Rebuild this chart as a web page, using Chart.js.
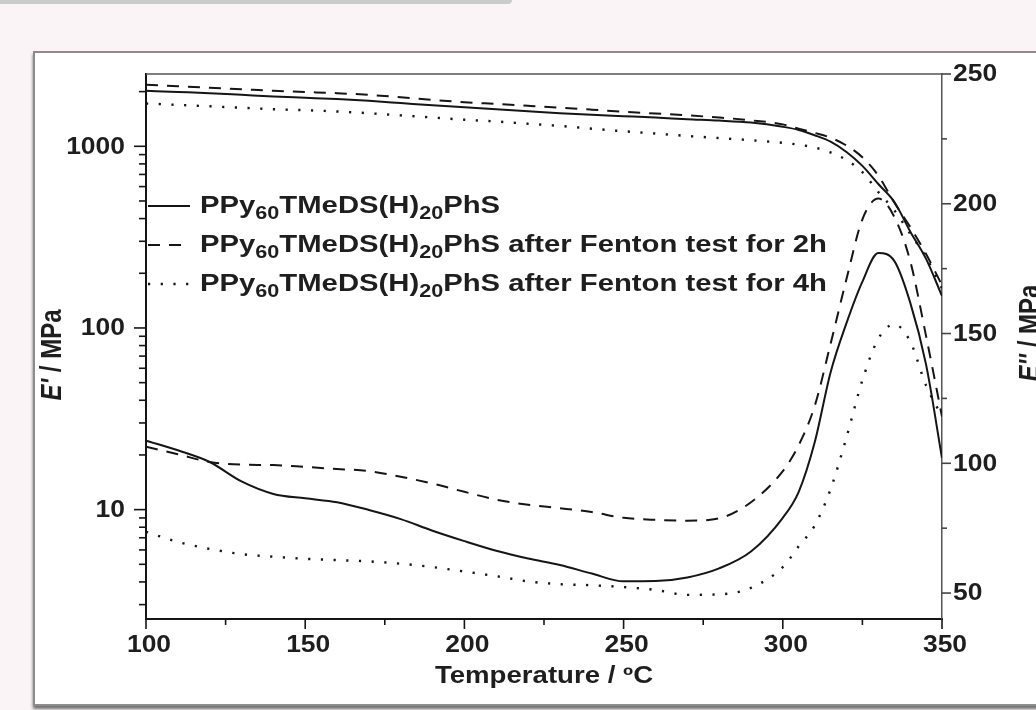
<!DOCTYPE html>
<html lang="en">
<head>
<meta charset="UTF-8">
<title>Storage and loss modulus vs temperature</title>
<style>
    body {
        margin: 0;
        width: 1036px;
        height: 710px;
        overflow: hidden;
        position: relative;
        background: #fbf4f6;
        font-family: "Liberation Sans", Arial, sans-serif;
    }
    .tab {
        position: absolute;
        left: 0; top: 0;
        width: 512px; height: 4px;
        background: #cbcbcb;
        border-bottom-right-radius: 4px;
    }
    .frame {
        position: absolute;
        left: 33px; top: 51px;
        width: 1100px; height: 651px;
        background: #fff;
        border: 2px solid #8c8c8c;
        box-shadow: 0 3px 3px rgba(0,0,0,0.55);
    }
    .chart-box {
        position: absolute;
        left: 0; top: 0;
        width: 1036px; height: 710px;
    }
</style>
</head>
<body>
<div class="tab"></div>
<div class="frame"></div>
<div class="chart-box"><canvas id="dma-chart"></canvas></div>

<script src="https://cdn.jsdelivr.net/npm/chart.js@4"></script>
<script>
    // temperature (°C)
    const temps = [100, 110, 120, 130, 140, 150, 160, 170, 180, 190, 200, 210, 220, 230, 240, 250, 260, 270, 280, 290, 300,
                   305, 310, 315, 320, 325, 330, 335, 340, 345, 350];

    // E' storage modulus (MPa, log axis)
    const storagePure = [2020, 1990, 1960, 1920, 1880, 1850, 1820, 1780, 1730, 1680, 1640, 1600, 1560, 1520, 1490, 1465, 1440, 1410, 1385, 1350, 1280,
                         1230, 1150, 1060, 930, 780, 620, 495, 340, 240, 150];
    const storage2h = [2180, 2140, 2100, 2060, 2020, 1990, 1960, 1920, 1860, 1800, 1750, 1710, 1670, 1630, 1590, 1550, 1515, 1480, 1440, 1390, 1320,
                       1250, 1185, 1115, 1010, 870, 690, 490, 360, 255, 172];
    const storage4h = [1720, 1690, 1660, 1630, 1600, 1580, 1555, 1520, 1480, 1440, 1400, 1370, 1330, 1295, 1250, 1210, 1175, 1140, 1110, 1080, 1045,
                       1020, 985, 925, 840, 720, 560, 445, 330, 245, 165];

    // E'' loss modulus (MPa, right axis)
    const lossPure = [108.7, 105, 100.5, 93, 88.2, 86.5, 85, 82, 78.5, 74, 70, 66.3, 63.3, 60.8, 57.5, 54.5, 54.6, 56, 59.5, 66, 79,
                      89, 108, 135, 154, 170, 181, 178, 162, 138, 102];
    const loss2h = [106.4, 103.5, 100.5, 99.5, 99.3, 98.6, 97.8, 97, 94.8, 92.2, 89, 86, 84, 82.7, 81.2, 79, 78.2, 77.9, 78.8, 85, 97,
                    107, 122, 146, 171, 194, 202, 195, 178, 149, 118];
    const loss4h = [73.6, 69.7, 67, 65, 64, 63.2, 62.7, 62.2, 61.3, 60, 58.3, 56.5, 54.5, 53.4, 53, 52.3, 51.2, 49.3, 49.5, 52, 60,
                    68, 76, 90, 110, 132, 148, 153.5, 147, 130, 118];

    const seriesLabels = [
        'PPy_{60}TMeDS(H)_{20}PhS',
        'PPy_{60}TMeDS(H)_{20}PhS after Fenton test for 2h',
        'PPy_{60}TMeDS(H)_{20}PhS after Fenton test for 4h'
    ];

    // axis ticks
    const tempTicks = [100, 150, 200, 250, 300, 350];
    const tempMinor = [125, 175, 225, 275, 325];
    const storageTicks = [10, 100, 1000];
    const storageMinor = [3, 4, 5, 6, 7, 8, 9, 20, 30, 40, 50, 60, 70, 80, 90, 200, 300, 400, 500, 600, 700, 800, 900, 2000];
    const lossTicks = [50, 100, 150, 200, 250];
    const lossMinor = [75, 125, 175, 225];

    const FONT = '"Liberation Sans", Arial, Helvetica, sans-serif';
    const SX = 1.2;   // the figure is a bit stretched horizontally

    const pts = vals => temps.map((t, i) => ({ x: t, y: vals[i] }));
    const SOLID = [], DASH = [12, 9], DOT = [2.2, 10.5];

    function line(label, vals, dash, axis, w) {
        return {
            label: label,
            data: pts(vals),
            yAxisID: axis,
            borderColor: '#151515',
            borderWidth: w,
            borderDash: dash,
            pointRadius: 0,
            fill: false,
            cubicInterpolationMode: 'monotone'
        };
    }

    function parseLabel(s) {
        return s.split(/(_\{\d+\})/).filter(p => p).map(p => {
            const m = p.match(/^_\{(\d+)\}$/);
            return m ? { t: m[1], sub: true } : { t: p };
        });
    }

    // draws bold text parts (with subscripts / italics) at the current origin
    function drawParts(ctx, parts, size, align, sx, sy) {
        const fonts = parts.map(p => (p.italic ? 'italic ' : '') + 'bold ' + (p.sub ? Math.round(size * 0.74) : size) + 'px ' + FONT);
        let total = 0;
        const ws = parts.map((p, i) => { ctx.font = fonts[i]; const w = ctx.measureText(p.t).width; total += w; return w; });
        let x = align === 'center' ? -total / 2 : align === 'right' ? -total : 0;
        ctx.save();
        ctx.scale(sx, sy);
        ctx.textAlign = 'left';
        ctx.textBaseline = 'middle';
        ctx.fillStyle = '#1e1e1e';
        parts.forEach((p, i) => {
            ctx.font = fonts[i];
            ctx.fillText(p.t, x, p.sub ? size * 0.33 : 0);
            x += ws[i];
        });
        ctx.restore();
    }

    function textAt(ctx, parts, x, y, size, align, rot, sx) {
        const s = sx || SX;
        ctx.save();
        ctx.translate(x, y);
        if (rot) {
            ctx.rotate(rot);
            drawParts(ctx, parts, size, align, 1, s);
        } else {
            drawParts(ctx, parts, size, align, s, 1);
        }
        ctx.restore();
    }

    function seg(ctx, x1, y1, x2, y2) {
        ctx.beginPath();
        ctx.moveTo(x1, y1);
        ctx.lineTo(x2, y2);
        ctx.stroke();
    }

    const decorations = {
        id: 'decorations',
        afterDraw(chart) {
            const { ctx, chartArea: a } = chart;
            const { x, y, y1 } = chart.scales;
            ctx.save();

            // top frame line
            ctx.strokeStyle = '#555';
            ctx.lineWidth = 1.5;
            seg(ctx, a.left, a.top, a.right, a.top);

            // tick marks
            ctx.strokeStyle = '#151515';
            ctx.lineWidth = 1.6;
            tempTicks.forEach(v => { const p = x.getPixelForValue(v); seg(ctx, p, a.bottom, p, a.bottom + 10); });
            tempMinor.forEach(v => { const p = x.getPixelForValue(v); seg(ctx, p, a.bottom, p, a.bottom + 6); });
            storageTicks.forEach(v => { const p = y.getPixelForValue(v); seg(ctx, a.left, p, a.left - 12, p); });
            storageMinor.forEach(v => { const p = y.getPixelForValue(v); seg(ctx, a.left, p, a.left - 7, p); });
            ctx.strokeStyle = '#444';
            lossTicks.forEach(v => { const p = y1.getPixelForValue(v); seg(ctx, a.right, p, a.right + 9, p); });
            lossMinor.forEach(v => { const p = y1.getPixelForValue(v); seg(ctx, a.right, p, a.right + 5, p); });

            // tick labels
            x.ticks.forEach(t => textAt(ctx, [{ t: String(t.value) }], x.getPixelForValue(t.value) + 3, a.bottom + 27, 23, 'center', 0, 1.15));
            y.ticks.forEach(t => textAt(ctx, [{ t: String(t.value) }], a.left - 21, y.getPixelForValue(t.value) + 1, 23, 'right', 0, 1.15));
            y1.ticks.forEach(t => textAt(ctx, [{ t: String(t.value) }], a.right + 11, y1.getPixelForValue(t.value) + 1, 23, 'left', 0, 1.15));

            // axis titles
            textAt(ctx, [{ t: 'Temperature / ºC' }], (a.left + a.right) / 2, a.bottom + 58, 23, 'center');
            textAt(ctx, [{ t: "E'", italic: true }, { t: ' / MPa' }], 53, 355, 24, 'center', -Math.PI / 2);
            textAt(ctx, [{ t: "E''", italic: true }, { t: ' / MPa' }], 1031, 333, 24, 'center', -Math.PI / 2);

            // legend
            const rows = [206, 245, 284];
            chart.data.datasets.slice(0, 3).forEach((ds, i) => {
                ctx.save();
                ctx.strokeStyle = ds.borderColor;
                ctx.lineWidth = ds.borderWidth;
                ctx.setLineDash(ds.borderDash);
                seg(ctx, a.left + 2, rows[i], a.left + 44, rows[i]);
                ctx.restore();
                textAt(ctx, parseLabel(ds.label), a.left + 54, rows[i], 24.4, 'left');
            });
            ctx.restore();
        }
    };

    const chart = new Chart(document.getElementById('dma-chart'), {
        type: 'line',
        data: {
            datasets: [
                line(seriesLabels[0], storagePure, SOLID, 'y', 2),
                line(seriesLabels[1], storage2h, DASH, 'y', 2),
                line(seriesLabels[2], storage4h, DOT, 'y', 2.4),
                line(seriesLabels[0], lossPure, SOLID, 'y1', 2),
                line(seriesLabels[1], loss2h, DASH, 'y1', 2),
                line(seriesLabels[2], loss4h, DOT, 'y1', 2.4)
            ]
        },
        options: {
            responsive: true,
            maintainAspectRatio: false,
            animation: false,
            events: [],
            layout: { padding: { top: 74, left: 0, right: 0, bottom: 0 } },
            plugins: {
                legend: { display: false },
                tooltip: { enabled: false }
            },
            scales: {
                x: {
                    type: 'linear',
                    min: 100,
                    max: 350,
                    afterBuildTicks: s => { s.ticks = tempTicks.map(v => ({ value: v })); },
                    afterFit: s => { s.height = 91; },
                    ticks: { display: false },
                    grid: { drawOnChartArea: false, drawTicks: false },
                    border: { display: true, color: '#151515', width: 2 }
                },
                y: {
                    type: 'logarithmic',
                    position: 'left',
                    min: 2.5,
                    max: 2500,
                    afterBuildTicks: s => { s.ticks = storageTicks.map(v => ({ value: v })); },
                    afterFit: s => { s.width = 146; },
                    ticks: { display: false },
                    grid: { drawOnChartArea: false, drawTicks: false },
                    border: { display: true, color: '#151515', width: 2 }
                },
                y1: {
                    type: 'linear',
                    position: 'right',
                    min: 40,
                    max: 250,
                    afterBuildTicks: s => { s.ticks = lossTicks.map(v => ({ value: v })); },
                    afterFit: s => { s.width = 94; },
                    ticks: { display: false },
                    grid: { drawOnChartArea: false, drawTicks: false },
                    border: { display: true, color: '#555', width: 1.5 }
                }
            }
        },
        plugins: [decorations]
    });
</script>
</body>
</html>
